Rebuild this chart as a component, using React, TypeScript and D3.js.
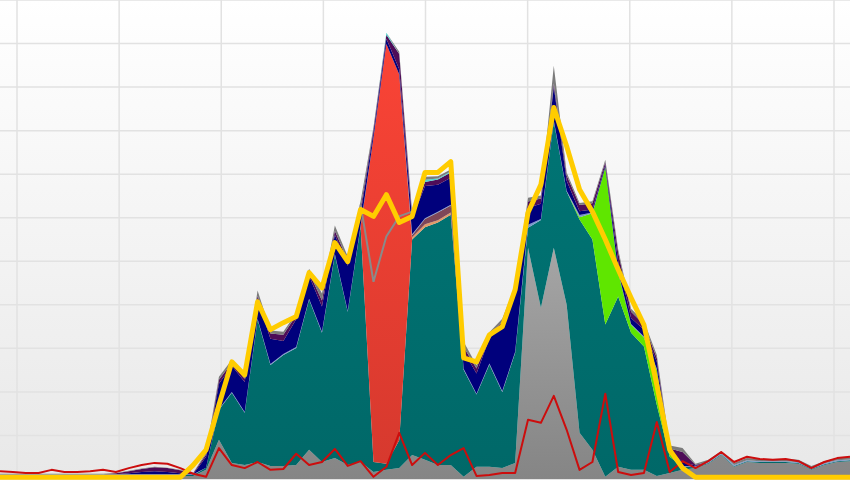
import { scaleLinear, stack, area, line, range } from "d3";

const W = 850;
const H = 480;

// stacked series, bottom to top
const grayBase = [7, 7, 7, 7, 7, 7, 7, 7, 7, 7, 7, 7, 7, 7, 7, 7, 21, 90, 37, 32, 39, 30, 30, 32, 67, 39, 48, 32, 39, 16, 21, 25, 55, 44, 32, 32, 5, 28, 28, 25, 37, 531, 393, 531, 400, 106, 67, 5, 28, 21, 21, 7, 14, 21, 25, 35, 55, 28, 39, 37, 37, 37, 35, 21, 32, 39, 41];
const teal = [2, 2, 2, 2, 2, 2, 2, 2, 2, 2, 2, 2, 2, 2, 2, 2, 5, 69, 161, 120, 327, 232, 255, 269, 345, 297, 467, 352, 541, 23, 14, 64, 495, 534, 557, 575, 246, 166, 235, 175, 253, 46, 202, 290, 260, 490, 483, 350, 391, 315, 283, 163, 37, 7, 2, 2, 2, 2, 2, 2, 2, 2, 2, 2, 2, 2, 2];
const red = [0, 0, 0, 0, 0, 0, 0, 0, 0, 0, 0, 0, 0, 0, 0, 0, 0, 0, 0, 0, 0, 0, 0, 0, 0, 0, 0, 0, 0, 745, 964, 840, 0, 0, 0, 0, 0, 0, 0, 0, 0, 0, 0, 0, 0, 0, 0, 0, 0, 0, 0, 0, 0, 0, 0, 0, 0, 0, 0, 0, 0, 0, 0, 0, 0, 0, 0];
const green = [0, 0, 0, 0, 0, 0, 0, 0, 0, 0, 0, 0, 0, 0, 0, 0, 0, 0, 0, 0, 0, 0, 0, 0, 0, 0, 0, 0, 0, 0, 0, 0, 0, 0, 0, 0, 0, 0, 0, 0, 0, 0, 0, 0, 0, 5, 60, 361, 55, 18, 21, 81, 7, 0, 0, 0, 0, 0, 0, 0, 0, 0, 0, 0, 0, 0, 0];
const tan = [0, 0, 0, 0, 0, 0, 0, 0, 0, 0, 0, 0, 0, 0, 0, 0, 0, 0, 0, 0, 0, 0, 0, 0, 0, 0, 0, 0, 0, 0, 0, 0, 5, 7, 5, 5, 0, 0, 0, 0, 0, 0, 0, 0, 0, 0, 0, 0, 0, 0, 0, 0, 0, 0, 0, 0, 0, 0, 0, 0, 0, 0, 0, 0, 0, 0, 0];
const maroon = [0, 0, 0, 0, 0, 0, 0, 0, 0, 0, 0, 0, 0, 0, 0, 0, 0, 0, 0, 0, 0, 0, 0, 0, 0, 0, 0, 0, 0, 0, 0, 0, 5, 12, 18, 16, 0, 0, 0, 0, 0, 0, 0, 0, 0, 0, 0, 0, 0, 0, 0, 0, 0, 0, 0, 0, 0, 0, 0, 0, 0, 0, 0, 0, 0, 0, 0];
const slate = [2, 2, 2, 2, 2, 2, 2, 2, 2, 2, 2, 2, 2, 2, 2, 2, 0, 2, 2, 2, 2, 2, 2, 2, 2, 2, 2, 2, 2, 0, 0, 0, 2, 2, 2, 2, 2, 2, 2, 2, 2, 7, 2, 2, 2, 5, 2, 0, 2, 2, 2, 2, 2, 2, 2, 2, 2, 2, 2, 2, 2, 2, 2, 2, 2, 2, 2];
const navy = [0, 0, 0, 0, 0, 0, 0, 0, 0, 0, 2, 5, 7, 5, 2, 0, 25, 58, 60, 69, 46, 58, 30, 64, 53, 58, 44, 104, 28, 12, 12, 12, 35, 74, 62, 62, 41, 46, 58, 150, 145, 39, 35, 78, 23, 9, 7, 5, 23, 14, 16, 16, 5, 9, 2, 0, 0, 0, 0, 0, 0, 0, 0, 0, 0, 0, 0];
const purple = [0, 0, 0, 0, 0, 0, 0, 0, 0, 2, 5, 7, 9, 9, 7, 2, 5, 9, 7, 7, 7, 12, 14, 9, 7, 14, 9, 12, 12, 7, 9, 35, 7, 9, 12, 12, 9, 12, 9, 9, 0, 14, 12, 7, 12, 14, 14, 7, 21, 14, 12, 9, 5, 23, 2, 0, 0, 0, 0, 0, 0, 0, 0, 0, 0, 0, 0];
const cyan = [0, 0, 0, 0, 0, 0, 0, 0, 0, 0, 0, 0, 0, 0, 0, 0, 0, 0, 0, 0, 0, 0, 0, 0, 0, 0, 0, 0, 0, 0, 5, 0, 0, 5, 2, 2, 0, 0, 0, 0, 0, 0, 0, 0, 0, 0, 0, 0, 0, 0, 0, 0, 0, 0, 0, 0, 0, 0, 0, 0, 0, 0, 0, 0, 0, 0, 0];
const grayTop = [1, 1, 1, 1, 1, 1, 1, 1, 1, 1, 1, 1, 1, 1, 1, 1, 5, 7, 7, 7, 12, 7, 7, 5, 9, 16, 12, 9, 16, 5, 0, 5, 9, 7, 5, 5, 12, 7, 5, 7, 7, 9, 7, 41, 7, 5, 5, 5, 7, 7, 7, 7, 7, 9, 2, 5, 5, 5, 5, 5, 5, 5, 5, 5, 5, 5, 5];

// overlay lines (not stacked)
const redLine = [18, 16, 14, 14, 21, 16, 16, 18, 21, 16, 25, 32, 37, 35, 25, 12, 5, 71, 32, 25, 39, 21, 23, 58, 32, 39, 69, 30, 41, 5, 28, 106, 32, 60, 32, 55, 71, 7, 9, 14, 14, 136, 129, 191, 113, 21, 39, 196, 16, 9, 14, 131, 16, 41, 25, 41, 62, 39, 51, 46, 44, 46, 41, 25, 39, 48, 51];
const yellowLine = [4, 4, 4, 4, 4, 4, 4, 4, 4, 4, 4, 4, 4, 4, 4, 32, 67, 170, 269, 239, 407, 343, 359, 373, 474, 439, 543, 499, 619, 603, 653, 589, 603, 704, 704, 729, 278, 269, 331, 350, 435, 612, 676, 853, 764, 665, 614, 550, 481, 416, 354, 216, 67, 25, 4, 4, 4, 4, 4, 4, 4, 4, 4, 4, 4, 4, 4];
const grayLine: (number | null)[] = range(67).map(() => null);
[630, 453, 557, 603, 614].forEach((v, k) => (grayLine[28 + k] = v));

const keys = ["grayBase", "teal", "red", "green", "tan", "maroon", "slate", "navy", "purple", "cyan", "grayTop"];
const columns: Record<string, number[]> = { grayBase, teal, red, green, tan, maroon, slate, navy, purple, cyan, grayTop };
const fills: Record<string, string> = {
  grayBase: "url(#gGray)",
  teal: "url(#gTeal)",
  red: "url(#gRed)",
  green: "#5fe600",
  tan: "#e09a6a",
  maroon: "#7e4658",
  slate: "#7a98cc",
  navy: "#00007c",
  purple: "#4e0c58",
  cyan: "#4fd8d0",
  grayTop: "#7c7c7c",
};

const rows = grayBase.map((_, i) => {
  const r: Record<string, number> = { i };
  keys.forEach((k) => (r[k] = columns[k][i]));
  return r;
});

export default function App() {
  const x = scaleLinear().domain([0, grayBase.length - 1]).range([0, W]);
  const y = scaleLinear().domain([0, 1100]).range([479, 0]);
  const gridX = scaleLinear().domain([0, 8]).range([17, 834]);

  const layers = stack<Record<string, number>>().keys(keys)(rows);
  const areaGen = area<[number, number]>()
    .x((_, i) => x(i))
    .y0((d) => y(d[0]))
    .y1((d) => y(d[1]));
  const lineGen = line<number | null>()
    .defined((d) => d != null)
    .x((_, i) => x(i))
    .y((d) => y(d as number));

  return (
    <div style={{ position: "absolute", left: 0, top: 0, width: W, height: H }}>
      <svg width={W} height={H} style={{ display: "block", overflow: "hidden" }}>
        <defs>
          <linearGradient id="gBg" x1="0" y1="0" x2="0" y2="1">
            <stop offset="0" stopColor="#ffffff" />
            <stop offset="1" stopColor="#e8e8e8" />
          </linearGradient>
          <linearGradient id="gGray" gradientUnits="userSpaceOnUse" x1="0" y1="220" x2="0" y2="480">
            <stop offset="0" stopColor="#a9a9a9" />
            <stop offset="1" stopColor="#858585" />
          </linearGradient>
          <linearGradient id="gTeal" gradientUnits="userSpaceOnUse" x1="0" y1="100" x2="0" y2="480">
            <stop offset="0" stopColor="#007575" />
            <stop offset="1" stopColor="#006868" />
          </linearGradient>
          <linearGradient id="gRed" gradientUnits="userSpaceOnUse" x1="0" y1="30" x2="0" y2="470">
            <stop offset="0" stopColor="#fb4436" />
            <stop offset="1" stopColor="#d6392e" />
          </linearGradient>
        </defs>

        <rect width={W} height={H} fill="url(#gBg)" />

        {/* grid */}
        {y.ticks(11).map((t) => (
          <line key={"h" + t} x1={0} x2={W} y1={y(t)} y2={y(t)} stroke="#e2e2e2" strokeWidth={1.5} />
        ))}
        {range(9).map((k) => (
          <line key={"v" + k} x1={gridX(k)} x2={gridX(k)} y1={0} y2={H} stroke="#e2e2e2" strokeWidth={1.5} />
        ))}

        {/* stacked areas */}
        {layers.map((layer) => (
          <path key={layer.key} d={areaGen(layer as unknown as [number, number][]) ?? ""} fill={fills[layer.key]} />
        ))}

        {/* overlay lines */}
        <path d={lineGen(grayLine) ?? ""} fill="none" stroke="#8a8a8a" strokeWidth={2} />
        <path d={lineGen(redLine) ?? ""} fill="none" stroke="#cc0d0d" strokeWidth={2} strokeLinejoin="round" />
        <path d={lineGen(yellowLine) ?? ""} fill="none" stroke="#ffcc00" strokeWidth={5} strokeLinejoin="round" />
      </svg>
    </div>
  );
}
